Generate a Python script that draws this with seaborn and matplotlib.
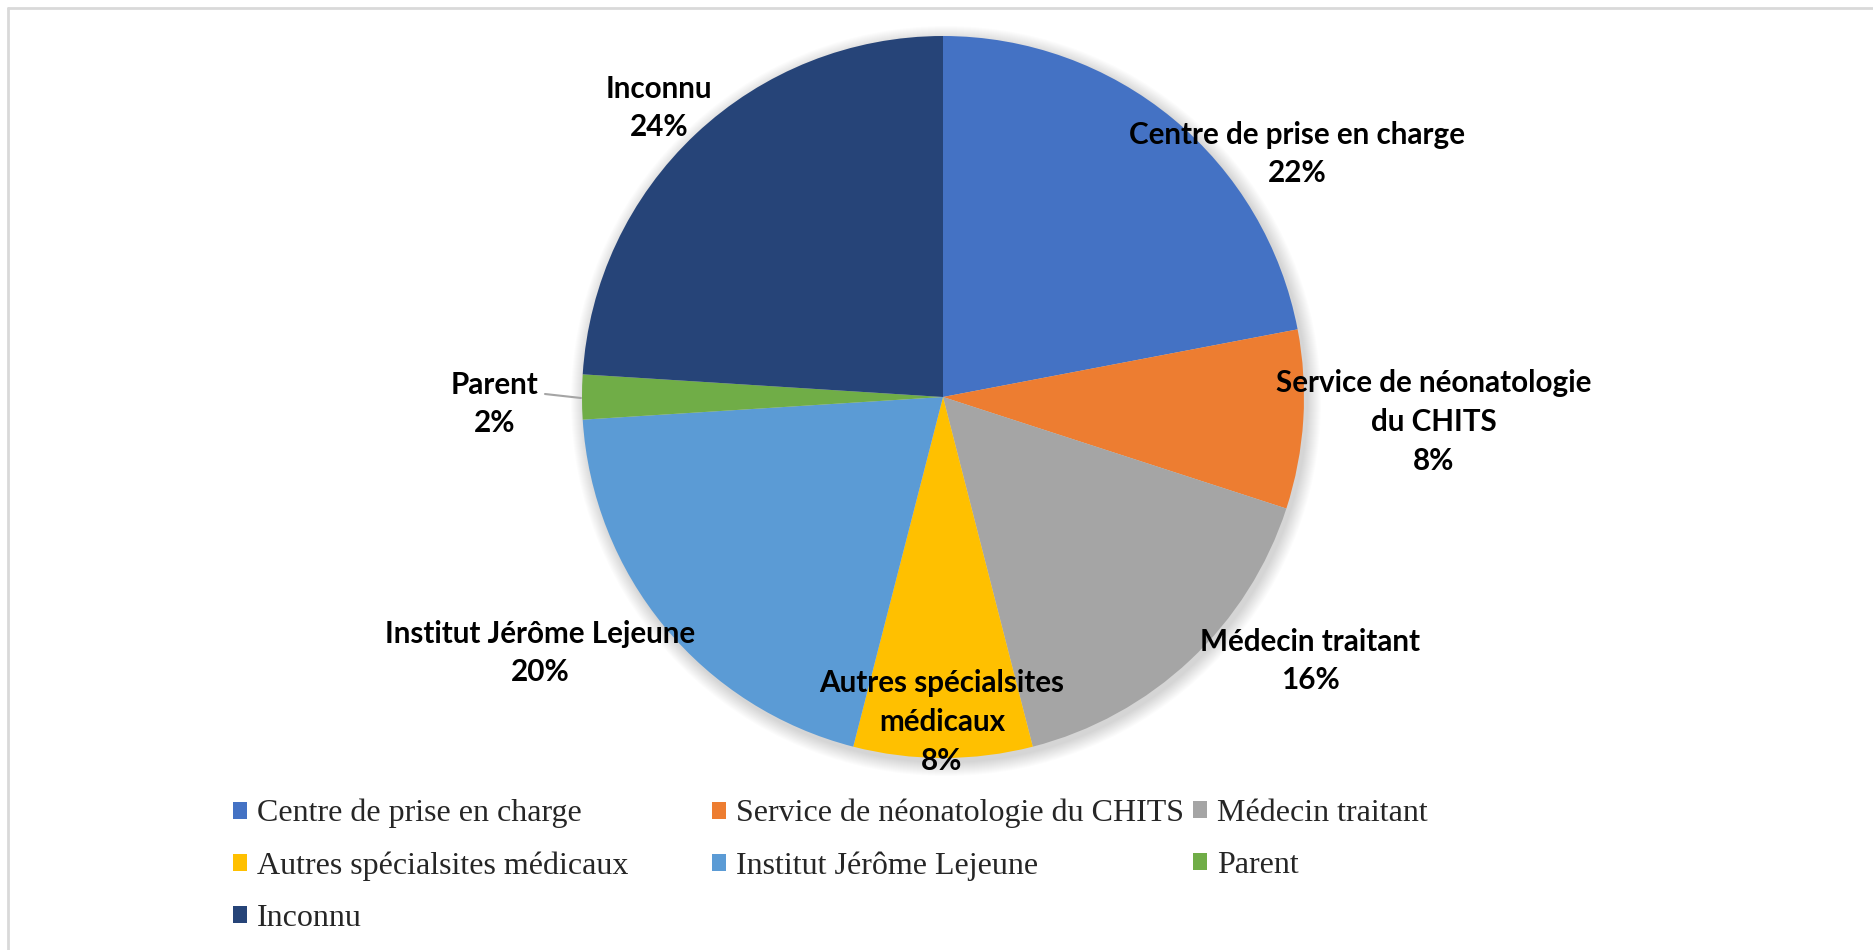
import matplotlib
matplotlib.use("Agg")
import matplotlib.pyplot as plt
import seaborn as sns
from matplotlib.patches import Patch, Circle
from matplotlib.lines import Line2D

categories = ["Centre de prise en charge", "Service de néonatologie du CHITS",
              "Médecin traitant", "Autres spécialsites médicaux",
              "Institut Jérôme Lejeune", "Parent", "Inconnu"]
label_texts = ["Centre de prise en charge", "Service de néonatologie\ndu CHITS",
               "Médecin traitant", "Autres spécialsites\nmédicaux",
               "Institut Jérôme Lejeune", "Parent", "Inconnu"]
values = [22, 8, 16, 8, 20, 2, 24]
colors = ["#4472C4", "#ED7D31", "#A5A5A5", "#FFC000", "#5B9BD5", "#70AD47", "#264478"]

sns.set_theme(style="white")
plt.rcParams['font.family'] = ['Lato', 'DejaVu Sans']

W, H = 1874, 950
fig = plt.figure(figsize=(W / 100, H / 100), dpi=100)
ax = fig.add_axes([0, 0, 1, 1])

cx, cy, R = 943, H - 397, 361

# soft shadow
for k in range(14):
    ax.add_patch(Circle((cx + 3, cy - 4), R + 14 - k, color="black", alpha=0.012, lw=0, zorder=0))

wedges, _ = ax.pie(values, colors=colors, startangle=90, counterclock=False,
                   center=(cx, cy), radius=R, frame=True,
                   wedgeprops=dict(linewidth=0))
ax.set_xlim(0, W)
ax.set_ylim(0, H)
ax.axis("off")

# data labels
label_pos = [(1297, 154), (1434, 422), (1310, 661), (942, 722),
             (540, 653), (495, 404), (659, 108)]
for txt, v, (x, y) in zip(label_texts, values, label_pos):
    ax.text(x, H - y, f"{txt}\n{v}%", ha="center", va="center", fontsize=21.3,
            fontweight="bold", color="black", linespacing=1.47, zorder=5)

# leader line for Parent
ax.add_line(Line2D([545, 581], [H - 394, H - 398], color="#A5A5A5", lw=1.5, zorder=4))

# frame lines (top and left)
fig.add_artist(Line2D([8 / W, 1], [1 - 8 / H, 1 - 8 / H], transform=fig.transFigure,
                      color="#D9D9D9", lw=2))
fig.add_artist(Line2D([8 / W, 8 / W], [0, 1 - 8 / H], transform=fig.transFigure,
                      color="#D9D9D9", lw=2))

# legend in three columns
col_x = [233, 712, 1193]
columns = [[0, 3, 6], [1, 4], [2, 5]]
for cxl, idxs in zip(col_x, columns):
    handles = [Patch(facecolor=colors[i], edgecolor="none", label=categories[i]) for i in idxs]
    fig.legend(handles=handles, loc="upper left",
               bbox_to_anchor=(cxl / W, 1 - 799 / H), bbox_transform=fig.transFigure,
               frameon=False, handlelength=0.45, handleheight=0.45,
               handletextpad=0.3, labelspacing=0.72, borderpad=0, borderaxespad=0,
               prop={"family": "Liberation Serif", "size": 23})

fig.savefig("out.png", dpi=100, facecolor="white")
